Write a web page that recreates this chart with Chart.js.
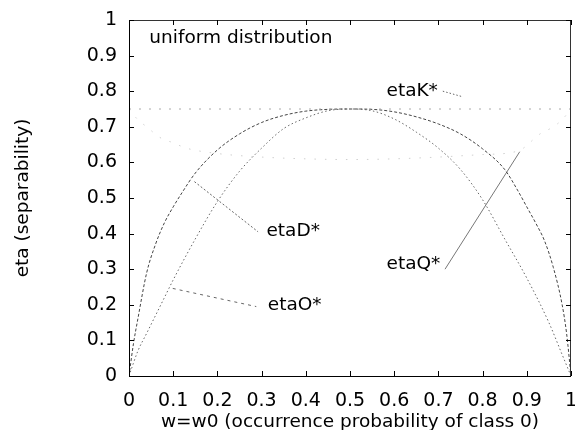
<!DOCTYPE html>
<html><head><meta charset="utf-8">
<script src="https://cdn.jsdelivr.net/npm/chart.js@4"></script>
<style>html,body{margin:0;padding:0;background:#fff}canvas{display:block}</style>
</head><body>
<canvas id="c" width="575" height="430"></canvas>
<script>
// etaD* (upper, steep curve)
const xD = [0,0.01,0.02,0.04,0.06,0.08,0.1,0.12,0.15,0.2,0.25,0.3,0.35,0.4,0.45,0.5,0.55,0.6,0.65,0.7,0.75,0.8,0.85,0.88,0.9,0.92,0.94,0.96,0.98,0.99,1];
const etaD = [0,0.09,0.16,0.29,0.37,0.43,0.475,0.515,0.57,0.635,0.68,0.712,0.732,0.744,0.749,0.75,0.749,0.742,0.728,0.708,0.68,0.638,0.58,0.52,0.475,0.43,0.38,0.305,0.2,0.12,0];
// etaO* (lower curve)
const xO = [0,0.02,0.04,0.06,0.08,0.1,0.15,0.2,0.25,0.3,0.35,0.4,0.45,0.5,0.55,0.6,0.65,0.7,0.75,0.8,0.85,0.9,0.95,0.98,1];
const etaO = [0,0.07,0.12,0.17,0.22,0.27,0.385,0.49,0.575,0.64,0.695,0.725,0.745,0.75,0.745,0.722,0.685,0.64,0.58,0.495,0.385,0.275,0.15,0.06,0];
// etaK* (constant)
const xK = [0,1];
const etaK = [0.75,0.75];
// etaQ* (faint U-shaped curve)
const xQ = [0,0.02,0.04,0.07,0.1,0.13,0.2,0.3,0.4,0.5,0.6,0.7,0.8,0.88,0.93,0.96,0.98,1];
const etaQ = [0.75,0.72,0.70,0.67,0.655,0.64,0.625,0.615,0.61,0.608,0.61,0.615,0.622,0.632,0.68,0.70,0.72,0.75];
// label pointer lines (data coordinates)
const arrowKx = [0.71,0.753], arrowKy = [0.80,0.785];
const arrowDx = [0.148,0.292], arrowDy = [0.546,0.405];
const arrowOx = [0.099,0.288], arrowOy = [0.246,0.195];
const arrowQx = [0.715,0.884], arrowQy = [0.30,0.63];
// text labels
const labelText = ['uniform distribution','etaK*','etaD*','etaO*','etaQ*'];
const labelX = [0.046,0.5826,0.311,0.314,0.5826];
const labelY = [0.948,0.799,0.406,0.199,0.313];

const FONT = 'DejaVu Sans';

function series(xs, ys, color, dash, width, smooth){
  return {
    data: xs.map((v,i)=>({x:v,y:ys[i]})),
    showLine:true, borderColor:color, borderWidth:width||1, borderDash:dash,
    pointRadius:0, fill:false,
    cubicInterpolationMode: smooth ? 'monotone' : 'default', tension:0
  };
}
const fmt = v => String(+Number(v).toFixed(2));

const overlay = {
  id:'overlay',
  afterDatasetsDraw(chart){
    const {ctx, chartArea:a, scales:{x,y}} = chart;
    ctx.save();
    ctx.setLineDash([]);
    ctx.lineWidth = 1;
    ctx.strokeStyle = '#000';
    ctx.beginPath();
    ctx.moveTo(a.left+0.5, a.top); ctx.lineTo(a.left+0.5, a.bottom+0.5); ctx.lineTo(a.right, a.bottom+0.5);
    ctx.stroke();
    ctx.strokeStyle = '#333';
    ctx.beginPath();
    ctx.moveTo(a.left, a.top+0.5); ctx.lineTo(a.right-0.5, a.top+0.5); ctx.lineTo(a.right-0.5, a.bottom);
    ctx.stroke();
    ctx.strokeStyle = '#000';
    x.ticks.forEach(t=>{
      const px = Math.round(x.getPixelForValue(t.value))+0.5;
      ctx.beginPath();
      ctx.moveTo(px, a.bottom); ctx.lineTo(px, a.bottom-5);
      ctx.moveTo(px, a.top); ctx.lineTo(px, a.top+5);
      ctx.stroke();
    });
    y.ticks.forEach(t=>{
      const py = Math.round(y.getPixelForValue(t.value))+0.5;
      ctx.beginPath();
      ctx.moveTo(a.left, py); ctx.lineTo(a.left+5, py);
      ctx.moveTo(a.right, py); ctx.lineTo(a.right-5, py);
      ctx.stroke();
    });
    ctx.font = '18.5px "' + FONT + '"';
    ctx.fillStyle = '#000';
    ctx.textAlign = 'left';
    ctx.textBaseline = 'middle';
    labelText.forEach((s,i)=>{
      ctx.fillText(s, x.getPixelForValue(labelX[i]), y.getPixelForValue(labelY[i]));
    });
    ctx.restore();
  }
};

new Chart(document.getElementById('c'), {
  type:'scatter',
  data:{datasets:[
    series(xK, etaK, '#aaa', [2,8], 1, false),
    series(xQ, etaQ, '#cfcfcf', [1.5,9], 1, true),
    series(xO, etaO, '#666', [1.5,2.5], 1, true),
    series(xD, etaD, '#444', [3,2], 1, true),
    series(arrowKx, arrowKy, '#666', [1.5,2], 1, false),
    series(arrowDx, arrowDy, '#666', [2,2], 1, false),
    series(arrowOx, arrowOy, '#666', [3,4], 1, false),
    series(arrowQx, arrowQy, '#777', [], 1, false)
  ]},
  options:{
    responsive:false, animation:false, devicePixelRatio:1,
    layout:{padding:{left:0, top:20, right:4, bottom:0}},
    plugins:{legend:{display:false}, tooltip:{enabled:false}},
    scales:{
      x:{
        type:'linear', min:0, max:1,
        grid:{display:false, drawTicks:false}, border:{display:false},
        ticks:{stepSize:0.1, color:'#000', font:{family:FONT, size:19}, padding:14, maxRotation:0, autoSkip:false, callback:fmt},
        title:{display:true, text:'w=w0 (occurrence probability of class 0)', color:'#000',
               font:{family:FONT, size:18.5, lineHeight:0.8}, padding:0},
        afterFit(s){ s.height = 54; s.paddingLeft = 0; s.paddingRight = 0; }
      },
      y:{
        type:'linear', min:0, max:1,
        grid:{display:false, drawTicks:false}, border:{display:false},
        ticks:{stepSize:0.1, color:'#000', font:{family:FONT, size:19}, padding:12, autoSkip:false, callback:fmt},
        title:{display:true, text:'eta (separability)', color:'#000',
               font:{family:FONT, size:18.5}, padding:{top:12, bottom:0}},
        afterFit(s){ s.width = 129; s.paddingTop = 0; s.paddingBottom = 0; }
      }
    }
  },
  plugins:[overlay]
});
</script>
</body></html>
